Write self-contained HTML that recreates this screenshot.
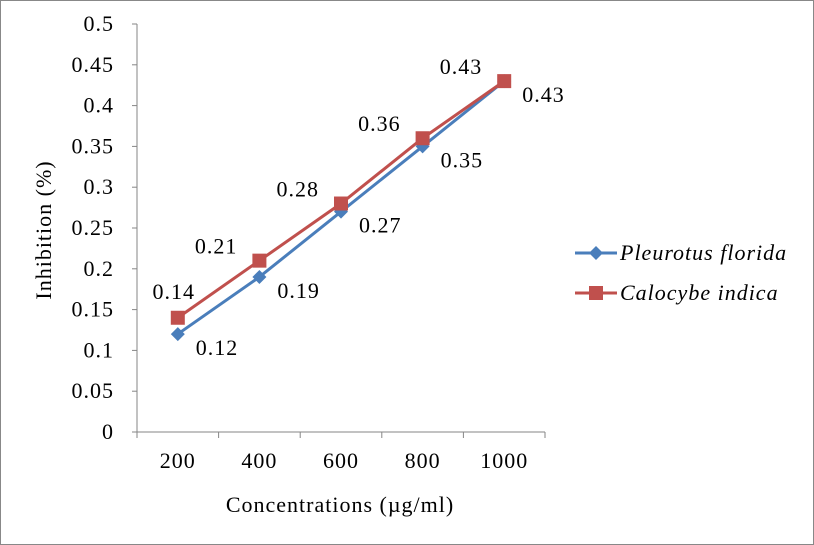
<!DOCTYPE html>
<html><head><meta charset="utf-8"><style>
body{margin:0;background:#fff}
svg{display:block;font-family:"Liberation Serif",serif;letter-spacing:1px}
</style></head><body>
<svg id="c" width="814" height="545">
<rect x="0.5" y="0.5" width="813" height="544" fill="#fff" stroke="#888"/>
<g id="axes"></g><g id="series"></g>
<text x="340" y="512" font-size="22" text-anchor="middle">Concentrations (µg/ml)</text>
<text transform="translate(51,230) rotate(-90)" font-size="22" text-anchor="middle">Inhibition (%)</text>
<g>
<g>
<line x1="575" y1="253" x2="617" y2="253" stroke="#4a7ebb" stroke-width="3"/>
<path d="M596 246 L603 253 L596 260 L589 253Z" fill="#4a7ebb"/>
<text x="620" y="260" font-size="22" font-style="italic">Pleurotus florida</text></g>
<g>
<line x1="575" y1="293" x2="617" y2="293" stroke="#c0504d" stroke-width="3"/>
<rect x="589" y="286" width="14" height="14" fill="#c0504d"/>
<text x="620" y="300" font-size="22" font-style="italic">Calocybe indica</text></g>
</g>
</svg>
<script>
const categories=["200","400","600","800","1000"];
const pleurotus=[0.12,0.19,0.27,0.35,0.43];
const calocybe=[0.14,0.21,0.28,0.36,0.43];
const yTicks=[0,0.05,0.1,0.15,0.2,0.25,0.3,0.35,0.4,0.45,0.5];
const yTickLabels=["0","0.05","0.1","0.15","0.2","0.25","0.3","0.35","0.4","0.45","0.5"];
const NS="http://www.w3.org/2000/svg";
const X0=137,X1=545,Y0=432,Y1=24;
const xs=i=>X0+(i+0.5)*(X1-X0)/categories.length;
const ys=v=>Y0-(v/0.5)*(Y0-Y1);
function mk(t,a,p){const e=document.createElementNS(NS,t);for(const k in a)e.setAttribute(k,a[k]);p.appendChild(e);return e;}
const ax=document.getElementById('axes');
const ya=mk('line',{x1:X0,y1:Y1,x2:X0,y2:Y0,stroke:'#868686'},ax);


const xa=mk('line',{x1:X0,y1:Y0,x2:X1,y2:Y0,stroke:'#868686'},ax);


yTicks.forEach((v,i)=>{
 mk('line',{x1:X0-5,y1:ys(v),x2:X0,y2:ys(v),stroke:'#868686'},ax);
 const t=mk('text',{x:X0-23,y:ys(v)+7,'font-size':22,'text-anchor':'end'},ax);
 t.textContent=yTickLabels[i];
 
 
});
for(let i=0;i<=categories.length;i++){const x=X0+i*(X1-X0)/categories.length;mk('line',{x1:x,y1:Y0,x2:x,y2:Y0+6,stroke:'#868686'},ax);}
categories.forEach((c,i)=>{
 const t=mk('text',{x:xs(i),y:Y0+36,'font-size':22,'text-anchor':'middle'},ax);
 t.textContent=c;
 
 
});
const sg=document.getElementById('series');
function series(vals,color,shape,name,labelPos,firstPos){
 const g=mk('g',{},sg);
 
 
 mk('polyline',{points:vals.map((v,i)=>xs(i)+','+ys(v)).join(' '),fill:'none',stroke:color,'stroke-width':3},g);
 vals.forEach((v,i)=>{
  const x=xs(i),y=ys(v);let m;
  if(shape==='d')m=mk('path',{d:`M${x} ${y-7}L${x+7} ${y}L${x} ${y+7}L${x-7} ${y}Z`,fill:color},g);
  else m=mk('rect',{x:x-7,y:y-7,width:14,height:14,fill:color},g);
  
  
  const lp=(i===0&&firstPos)?firstPos:labelPos;
  const t=mk('text',{x:x+lp[0],y:y+lp[1],'font-size':22,'text-anchor':lp[2]},g);
  t.textContent=String(v);
  
  
 });
}
series(pleurotus,'#4a7ebb','d','series-pleurotus-florida',[18,21,'start']);
series(calocybe,'#c0504d','s','series-calocybe-indica',[-22,-7,'end'],[-4,-19,'middle']);
</script>
</body></html>
